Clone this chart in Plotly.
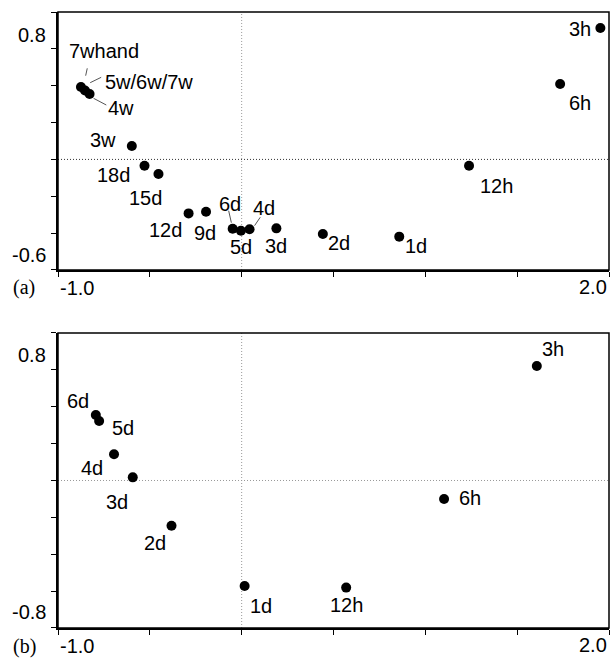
import plotly.graph_objects as go

# Panel (a): scores of samples across the full time course
top_labels = ["7whand", "5w/6w/7w", "4w", "3w", "18d", "15d", "12d", "9d",
              "6d", "5d", "4d", "3d", "2d", "1d", "12h", "6h", "3h"]
top_x = [-0.875, -0.853, -0.828, -0.598, -0.529, -0.453, -0.289, -0.194,
         -0.049, -0.004, 0.043, 0.189, 0.442, 0.858, 1.238, 1.734, 1.953]
top_y = [0.393, 0.374, 0.355, 0.073, -0.034, -0.079, -0.293, -0.284,
         -0.376, -0.387, -0.379, -0.374, -0.405, -0.419, -0.034, 0.409, 0.713]

# Panel (b): scores of the early time points only
bot_labels = ["6d", "5d", "4d", "3d", "2d", "1d", "12h", "6h", "3h"]
bot_x = [-0.794, -0.776, -0.695, -0.593, -0.382, 0.016, 0.569, 1.102, 1.607]
bot_y = [0.355, 0.323, 0.142, 0.017, -0.245, -0.572, -0.581, -0.100, 0.621]

# Label offsets from each point, in pixels (x right, y up)
top_offsets = [(23, 36), (64, 9), (31, -14), (-29, 6), (-31, -9), (-13, -24),
               (-23, -17), (-1, -21), (-3, 25), (0, -16), (14, 21), (0, -18),
               (16, -9), (17, -9), (27, -20), (20, -19), (-20, -1)]
bot_offsets = [(-18, 14), (24, -7), (-22, -14), (-16, -25), (-17, -17),
               (16, -20), (0, -17), (26, 1), (16, 17)]

# Leader lines for crowded labels: (label, dx0, dy0, dx1, dy1) in pixels
top_leaders = [("7whand", 6.3, 18.7, 4.7, 11.3),
               ("5w/6w/7w", 5.2, 7.8, 16.2, 13.2),
               ("4w", 4.0, -4.3, 16.7, -11.0),
               ("6d", -4.0, 18.0, -1.3, 6.0),
               ("4d", 10.7, 12.0, 5.0, 3.6)]

FONT = "Liberation Sans, Arial, sans-serif"
SERIF = "Liberation Serif, Times New Roman, serif"
FS = 20

fig = go.Figure()
fig.add_trace(go.Scatter(x=top_x, y=top_y, mode="markers", xaxis="x", yaxis="y",
                         marker=dict(color="black", size=10), showlegend=False,
                         text=top_labels, hoverinfo="text"))
fig.add_trace(go.Scatter(x=bot_x, y=bot_y, mode="markers", xaxis="x2", yaxis="y2",
                         marker=dict(color="black", size=10), showlegend=False,
                         text=bot_labels, hoverinfo="text"))

annotations = []
shapes = []


def label_points(labels, xs, ys, offsets, xr, yr):
    for lab, x, y, (dx, dy) in zip(labels, xs, ys, offsets):
        annotations.append(dict(x=x, y=y, xref=xr, yref=yr, text=lab, showarrow=False,
                                xshift=dx, yshift=dy, xanchor="center", yanchor="middle",
                                font=dict(family=FONT, size=FS, color="black")))


label_points(top_labels, top_x, top_y, top_offsets, "x", "y")
label_points(bot_labels, bot_x, bot_y, bot_offsets, "x2", "y2")

for lab, dx0, dy0, dx1, dy1 in top_leaders:
    i = top_labels.index(lab)
    shapes.append(dict(type="line", xref="x", yref="y",
                       xsizemode="pixel", ysizemode="pixel",
                       xanchor=top_x[i], yanchor=top_y[i],
                       x0=dx0, y0=dy0, x1=dx1, y1=dy1,
                       line=dict(color="#555555", width=1)))

# Zero reference lines and panel frames
for xr, yr, hcol in (("x", "y", "#333333"), ("x2", "y2", "#999999")):
    shapes.append(dict(type="line", xref=f"{xr} domain", yref=yr, x0=0, x1=1, y0=0, y1=0,
                       line=dict(color=hcol, width=1, dash="1px,2px"), layer="below"))
    shapes.append(dict(type="line", xref=xr, yref=f"{yr} domain", x0=0, x1=0, y0=0, y1=1,
                       line=dict(color="#999999", width=1, dash="1px,2px"), layer="below"))
    shapes.append(dict(type="rect", xref=f"{xr} domain", yref=f"{yr} domain",
                       x0=0, x1=1, y0=0, y1=1, line=dict(color="black", width=1.5)))

# Axis end labels and panel letters
for xr, yr, ylo, yhi, letter, hi_shift, lo_shift in (
        ("x", "y", -0.6, 0.8, "(a)", -23, 15),
        ("x2", "y2", -0.8, 0.8, "(b)", -22, 16)):
    yfmt = lambda v: f"{v:.1f}"
    annotations.append(dict(x=0, y=yhi, xref=f"{xr} domain", yref=yr, text=yfmt(yhi),
                            showarrow=False, xanchor="right", yanchor="middle",
                            xshift=-10, yshift=hi_shift,
                            font=dict(family=FONT, size=FS, color="black")))
    annotations.append(dict(x=0, y=ylo, xref=f"{xr} domain", yref=yr, text=yfmt(ylo),
                            showarrow=False, xanchor="right", yanchor="middle",
                            xshift=-10, yshift=lo_shift,
                            font=dict(family=FONT, size=FS, color="black")))
    annotations.append(dict(x=0, y=0, xref=f"{xr} domain", yref=f"{yr} domain", text="-1.0",
                            showarrow=False, xanchor="left", yanchor="middle",
                            xshift=0, yshift=-18,
                            font=dict(family=FONT, size=FS, color="black")))
    annotations.append(dict(x=1, y=0, xref=f"{xr} domain", yref=f"{yr} domain", text="2.0",
                            showarrow=False, xanchor="right", yanchor="middle",
                            xshift=0, yshift=-17,
                            font=dict(family=FONT, size=FS, color="black")))
    annotations.append(dict(x=0, y=0, xref=f"{xr} domain", yref=f"{yr} domain", text=letter,
                            showarrow=False, xanchor="center", yanchor="middle",
                            xshift=-34, yshift=-18,
                            font=dict(family=SERIF, size=FS, color="black")))

xaxis_common = dict(range=[-1.0, 2.0], tickmode="linear", tick0=-1.0, dtick=0.5,
                    showticklabels=False, ticks="outside", ticklen=5, tickwidth=1,
                    tickcolor="black", showline=True, linecolor="black", linewidth=2,
                    showgrid=False, zeroline=False, fixedrange=True)
yaxis_common = dict(tickmode="linear", dtick=0.2, showticklabels=False,
                    ticks="outside", ticklen=5, tickwidth=1, tickcolor="black",
                    showline=True, linecolor="black", linewidth=2,
                    showgrid=False, zeroline=False, fixedrange=True)

fig.update_layout(
    width=615, height=658,
    margin=dict(l=58, r=6, t=12, b=30),
    plot_bgcolor="white", paper_bgcolor="white",
    xaxis=dict(xaxis_common, anchor="y"),
    yaxis=dict(yaxis_common, range=[-0.6, 0.8], tick0=-0.6, domain=[0.5812, 1.0], anchor="x"),
    xaxis2=dict(xaxis_common, anchor="y2"),
    yaxis2=dict(yaxis_common, range=[-0.8, 0.8], tick0=-0.8, domain=[0.0, 0.4789], anchor="x2"),
    annotations=annotations,
    shapes=shapes,
    showlegend=False,
)

fig.write_html("out.html")
